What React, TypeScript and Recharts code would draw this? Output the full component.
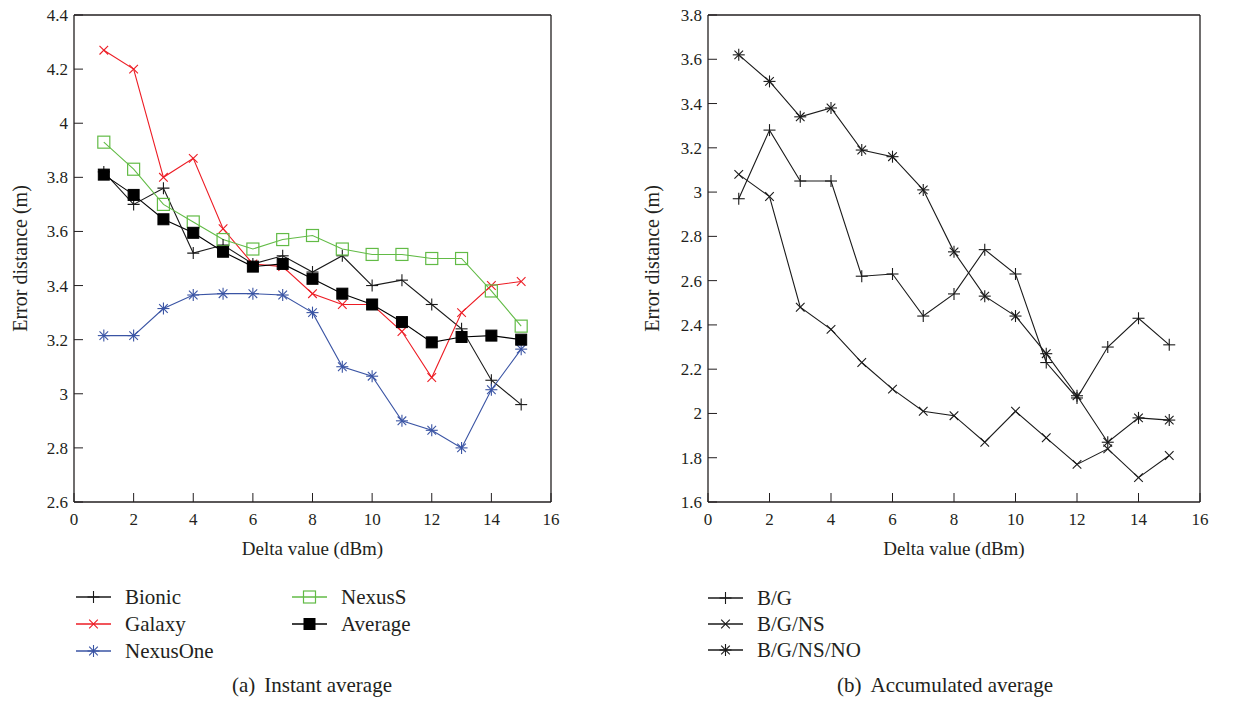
import React from 'react';
import { LineChart, Line, XAxis, YAxis } from 'recharts';

// delta values on the x axis
const deltas = [1, 2, 3, 4, 5, 6, 7, 8, 9, 10, 11, 12, 13, 14, 15];
const xTicks = [0, 2, 4, 6, 8, 10, 12, 14, 16];

// (a) instant average
const bionic = [3.82, 3.70, 3.76, 3.52, 3.55, 3.48, 3.51, 3.45, 3.51, 3.40, 3.42, 3.33, 3.24, 3.05, 2.96];
const galaxy = [4.27, 4.20, 3.80, 3.87, 3.61, 3.48, 3.47, 3.37, 3.33, 3.33, 3.23, 3.06, 3.30, 3.40, 3.415];
const nexusOne = [3.215, 3.215, 3.315, 3.365, 3.37, 3.37, 3.365, 3.30, 3.10, 3.065, 2.90, 2.865, 2.80, 3.015, 3.165];
const nexusS = [3.93, 3.83, 3.70, 3.635, 3.57, 3.535, 3.57, 3.585, 3.535, 3.515, 3.515, 3.50, 3.50, 3.38, 3.25];
const average = [3.81, 3.735, 3.645, 3.595, 3.525, 3.47, 3.48, 3.425, 3.37, 3.33, 3.265, 3.19, 3.21, 3.215, 3.20];
const leftTicks = [2.6, 2.8, 3, 3.2, 3.4, 3.6, 3.8, 4, 4.2, 4.4];

// (b) accumulated average
const bg = [2.97, 3.28, 3.05, 3.05, 2.62, 2.63, 2.44, 2.54, 2.74, 2.63, 2.23, 2.07, 2.30, 2.43, 2.31];
const bgns = [3.08, 2.98, 2.48, 2.38, 2.23, 2.11, 2.01, 1.99, 1.87, 2.01, 1.89, 1.77, 1.84, 1.71, 1.81];
const bgnsno = [3.62, 3.50, 3.34, 3.38, 3.19, 3.16, 3.01, 2.73, 2.53, 2.44, 2.27, 2.08, 1.87, 1.98, 1.97];
const rightTicks = [1.6, 1.8, 2, 2.2, 2.4, 2.6, 2.8, 3, 3.2, 3.4, 3.6, 3.8];

const leftData = deltas.map((d, i) => ({
  delta: d,
  bionic: bionic[i],
  galaxy: galaxy[i],
  nexusOne: nexusOne[i],
  nexusS: nexusS[i],
  average: average[i],
}));

const rightData = deltas.map((d, i) => ({
  delta: d,
  bg: bg[i],
  bgns: bgns[i],
  bgnsno: bgnsno[i],
}));

type Shape = 'plus' | 'cross' | 'star' | 'square' | 'filled';

const leftSeries: { key: string; name: string; color: string; shape: Shape }[] = [
  { key: 'bionic', name: 'Bionic', color: '#1a1a1a', shape: 'plus' },
  { key: 'galaxy', name: 'Galaxy', color: '#ed1c24', shape: 'cross' },
  { key: 'nexusOne', name: 'NexusOne', color: '#3a54a4', shape: 'star' },
  { key: 'nexusS', name: 'NexusS', color: '#62bb46', shape: 'square' },
  { key: 'average', name: 'Average', color: '#000000', shape: 'filled' },
];

const rightSeries: { key: string; name: string; color: string; shape: Shape }[] = [
  { key: 'bg', name: 'B/G', color: '#1a1a1a', shape: 'plus' },
  { key: 'bgns', name: 'B/G/NS', color: '#1a1a1a', shape: 'cross' },
  { key: 'bgnsno', name: 'B/G/NS/NO', color: '#1a1a1a', shape: 'star' },
];

const ink = '#231f20';
const font = '"Liberation Serif", Tinos, "Times New Roman", "DejaVu Serif", serif';

const Marker = ({ cx, cy, shape, color, r = 6 }: { cx: number; cy: number; shape: Shape; color: string; r?: number }) => {
  const d = r * 0.72;
  if (shape === 'plus') {
    return (
      <g stroke={color} strokeWidth={1.1}>
        <line x1={cx - r} y1={cy} x2={cx + r} y2={cy} />
        <line x1={cx} y1={cy - r} x2={cx} y2={cy + r} />
      </g>
    );
  }
  if (shape === 'cross') {
    return (
      <g stroke={color} strokeWidth={1.1}>
        <line x1={cx - d} y1={cy - d} x2={cx + d} y2={cy + d} />
        <line x1={cx - d} y1={cy + d} x2={cx + d} y2={cy - d} />
      </g>
    );
  }
  if (shape === 'star') {
    return (
      <g stroke={color} strokeWidth={1.1}>
        <line x1={cx - r} y1={cy} x2={cx + r} y2={cy} />
        <line x1={cx} y1={cy - r} x2={cx} y2={cy + r} />
        <line x1={cx - d} y1={cy - d} x2={cx + d} y2={cy + d} />
        <line x1={cx - d} y1={cy + d} x2={cx + d} y2={cy - d} />
      </g>
    );
  }
  if (shape === 'square') {
    return <rect x={cx - r} y={cy - r} width={2 * r} height={2 * r} fill="none" stroke={color} strokeWidth={1.2} />;
  }
  return <rect x={cx - r + 0.5} y={cy - r + 0.5} width={2 * r - 1} height={2 * r - 1} fill={color} stroke={color} />;
};

const makeDot = (shape: Shape, color: string) => (props: any) => (
  <Marker key={`${shape}-${props.index}`} cx={props.cx} cy={props.cy} shape={shape} color={color} />
);

const fmt = (v: number) => String(parseFloat(v.toFixed(1)));

const Panel = ({
  data,
  series,
  yTicks,
  axisWidth,
  labelOffset,
  width,
}: {
  data: any[];
  series: { key: string; name: string; color: string; shape: Shape }[];
  yTicks: number[];
  axisWidth: number;
  labelOffset: number;
  width: number;
}) => {
  const domain: [number, number] = [yTicks[0], yTicks[yTicks.length - 1]];
  const tickStyle = { fill: ink, fontSize: 17, fontFamily: font };
  const axisLine = { stroke: ink, strokeWidth: 1.3 };
  const tickLine = { stroke: ink, strokeWidth: 1 };
  return (
    <LineChart width={width} height={562} data={data} margin={{ top: 0, right: 10, bottom: 0, left: 0 }} style={{ fontFamily: font }}>
      <XAxis
        xAxisId="b"
        dataKey="delta"
        type="number"
        domain={[0, 16]}
        ticks={xTicks}
        height={60}
        tick={tickStyle}
        tickSize={-9}
        tickMargin={20}
        axisLine={axisLine}
        tickLine={tickLine}
        label={{ value: 'Delta value (dBm)', position: 'insideBottom', offset: 7, fill: ink, fontSize: 19, fontFamily: font }}
      />
      <XAxis
        xAxisId="t"
        orientation="top"
        type="number"
        domain={[0, 16]}
        ticks={xTicks}
        height={15}
        tick={false}
        tickSize={-9}
        axisLine={axisLine}
        tickLine={tickLine}
        allowDataOverflow
      />
      <YAxis
        yAxisId="l"
        type="number"
        domain={domain}
        ticks={yTicks}
        width={axisWidth}
        tick={tickStyle}
        tickSize={-9}
        tickMargin={15}
        tickFormatter={fmt}
        axisLine={axisLine}
        tickLine={tickLine}
        allowDataOverflow
        label={{
          value: 'Error distance (m)',
          angle: -90,
          position: 'insideLeft',
          offset: labelOffset,
          fill: ink,
          fontSize: 20,
          fontFamily: font,
          style: { textAnchor: 'middle' },
        }}
      />
      <YAxis
        yAxisId="r"
        orientation="right"
        type="number"
        domain={domain}
        ticks={yTicks}
        width={10}
        tick={false}
        tickSize={-9}
        axisLine={axisLine}
        tickLine={tickLine}
        allowDataOverflow
      />
      {series.map((s) => (
        <Line
          key={s.key}
          xAxisId="b"
          yAxisId="l"
          type="linear"
          dataKey={s.key}
          name={s.name}
          stroke={s.color}
          strokeWidth={1.1}
          dot={makeDot(s.shape, s.color)}
          activeDot={false}
          isAnimationActive={false}
        />
      ))}
    </LineChart>
  );
};

const LegendRow = ({ item, x, y }: { item: { name: string; color: string; shape: Shape }; x: number; y: number }) => (
  <div style={{ position: 'absolute', left: x, top: y - 13, height: 26, display: 'flex', alignItems: 'center' }}>
    <svg width={36} height={26} style={{ display: 'block' }}>
      <line x1={0} y1={13} x2={35} y2={13} stroke={item.color} strokeWidth={1.3} />
      <Marker cx={17.5} cy={13} shape={item.shape} color={item.color} />
    </svg>
    <span style={{ marginLeft: 13, fontSize: 21, color: ink, fontFamily: font, whiteSpace: 'nowrap' }}>{item.name}</span>
  </div>
);

const leftLegendPos = [
  { x: 76, y: 597 },
  { x: 76, y: 624 },
  { x: 76, y: 651 },
  { x: 292, y: 597 },
  { x: 292, y: 624 },
];
const rightLegendPos = [
  { x: 708, y: 598 },
  { x: 708, y: 624 },
  { x: 708, y: 650 },
];

export default function App() {
  return (
    <div style={{ position: 'absolute', left: 0, top: 0, width: 1254, height: 701, background: '#fff', fontFamily: font }}>
      <div style={{ position: 'absolute', left: 0, top: 0 }}>
        <Panel data={leftData} series={leftSeries} yTicks={leftTicks} axisWidth={74} labelOffset={20} width={571} />
      </div>
      <div style={{ position: 'absolute', left: 630, top: 0 }}>
        <Panel data={rightData} series={rightSeries} yTicks={rightTicks} axisWidth={78} labelOffset={22} width={590} />
      </div>
      {leftSeries.map((s, i) => (
        <LegendRow key={s.key} item={s} x={leftLegendPos[i].x} y={leftLegendPos[i].y} />
      ))}
      {rightSeries.map((s, i) => (
        <LegendRow key={s.key} item={s} x={rightLegendPos[i].x} y={rightLegendPos[i].y} />
      ))}
      <div style={{ position: 'absolute', left: 232, top: 673, fontSize: 21, color: ink, whiteSpace: 'nowrap' }}>
        <span style={{ marginRight: 9 }}>(a)</span>Instant average
      </div>
      <div style={{ position: 'absolute', left: 837, top: 673, fontSize: 21, color: ink, whiteSpace: 'nowrap' }}>
        <span style={{ marginRight: 9 }}>(b)</span>Accumulated average
      </div>
    </div>
  );
}
